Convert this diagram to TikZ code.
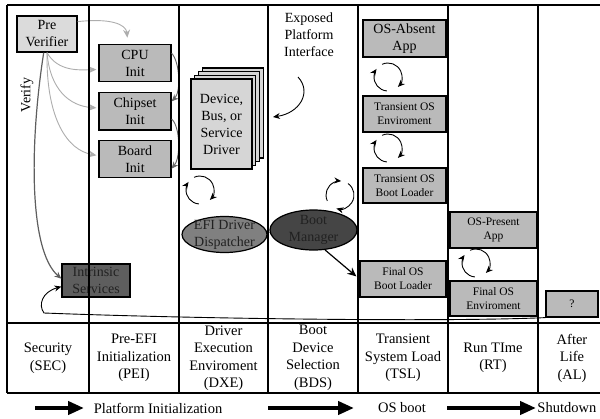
\documentclass[tikz,border=0pt]{standalone}
\usepackage{fontspec}
\setmainfont{Liberation Serif}
\usepackage{tikz}
\usetikzlibrary{shapes,arrows.meta,positioning}

\definecolor{pale}{gray}{0.86}
\definecolor{mid}{gray}{0.73}
\definecolor{drv}{gray}{0.84}
\definecolor{dim}{gray}{0.37}
\definecolor{efi}{gray}{0.5}
\definecolor{bmgr}{gray}{0.27}
\definecolor{lite}{gray}{0.68}
\definecolor{darkline}{gray}{0.4}
\definecolor{ink}{gray}{0.13}

\begin{document}
\begin{tikzpicture}[x=1pt, y=-1pt, line width=0.9pt,
>={Stealth[length=7pt,width=6pt]}, node distance=9.5pt,
big/.style={font=\fontsize{14}{17}\selectfont},
small/.style={font=\fontsize{11.5}{14}\selectfont},
cell/.style={font=\fontsize{14.5}{17.5}\selectfont, align=center},
box/.style={draw, line width=1.2pt, fill=mid, align=center, inner sep=0pt},
pei/.style={box, big, minimum width=72pt, minimum height=37.5pt},
tsl/.style={box, small, minimum width=83pt, minimum height=36pt},
oval/.style={ellipse, draw, line width=1.2pt, inner sep=0pt,
  minimum width=85pt, minimum height=36pt},
soft/.style={->, draw=lite, shorten >=2pt, >={Stealth[length=8pt,width=7pt]}},
fat/.style={-{Triangle[length=16pt,width=13pt]}, line width=4pt},
frame/.style={line width=1.5pt},
swaploop/.pic={
  \draw [->] (95:14) arc[start angle=95, end angle=215, radius=14];
  \draw [->] (245:14) arc[start angle=245, end angle=405, radius=14];
}]
\useasboundingbox (0,0) rectangle (600,418);

% Security
\node [box, big, fill=pale, minimum width=60pt, minimum height=36pt] (prever) at (47,34) {Pre\\Verifier};
\node [big, rotate=90] (verify) at (27,95) {Verify};
\node [box, big, fill=dim, text=ink, minimum width=68pt, minimum height=33pt] (intr) at (96,280.5) {Intrinsic\\Services};

% PEI
\node [pei] (cpu) at (135,63) {CPU\\Init};
\node [pei, below=9.5pt of cpu] (chip) {Chipset\\Init};
\node [pei, below=9pt of chip] (board) {Board\\Init};

% DXE
\foreach \k in {3,2,1}
  \draw [line width=1.2pt, fill=drv] (191+3.7*\k, 79-3.7*\k) rectangle +(61,90);
\node [box, big, fill=drv, minimum width=61pt, minimum height=90pt] (drv) at (221.5,124) {Device,\\Bus, or\\Service\\Driver};
\node [oval, fill=efi, label={[big, align=center, text=ink]center:EFI Driver\\Dispatcher}] (efi) at (224.5,234.5) {};

% BDS
\node [big, align=center] (epi) at (309,35) {Exposed\\Platform\\Interface};
\node [oval, fill=bmgr, minimum width=87pt, minimum height=40pt, label={[big, align=center, text=ink]center:Boot\\Manager}] (bm) at (313.5,230) {};

% TSL
\node [tsl, big, minimum height=37pt] (absent) at (404.5,38.5) {OS-Absent\\App};
\node [tsl] (tenv) at (404.5,114) {Transient OS\\Enviroment};
\node [tsl, minimum height=35pt] (tload) at (404.5,185.5) {Transient OS\\Boot Loader};
\node [tsl, minimum width=86pt] (fload) at (403,279) {Final OS\\Boot Loader};

% RT and AL
\node [tsl, minimum width=87pt] (present) at (493.5,230) {OS-Present\\App};
\node [tsl, minimum width=87pt, minimum height=35pt] (fenv) at (493.5,298.5) {Final OS\\Enviroment};
\node [tsl, minimum width=52pt, minimum height=26pt] (quest) at (572,304) {?};

% two way loops
\pic (dxeloop) at (200,190) {swaploop};
\pic [rotate=-60] (bdsloop) at (340,195) {swaploop};
\pic (apploop) at (388,77) {swaploop};
\pic (envloop) at (388,148) {swaploop};
\pic (rtloop) at (476,263) {swaploop};

% connectors
\draw [soft, shorten >=6pt] (prever.22) .. controls (110,18) and (126,24) .. (cpu.110);
\draw [soft] (prever.south) .. controls (58,72) and (80,70) .. (cpu.190);
\draw [soft] (prever.south) .. controls (50,90) and (70,106) .. (chip.175);
\draw [soft] (prever.south) .. controls (46,120) and (68,150) .. (board.175);
\draw [->, draw=dim, line width=1.2pt] (prever.-100) .. controls (30,140) and (28,250) .. (intr.177);

\draw [->, draw=darkline] (cpu.15) .. controls (180,62) and (181,92) .. (chip.15);
\draw [->, draw=darkline] (chip.-12) .. controls (180,126) and (181,157) .. (board.-15);

\coordinate (epis) at (298,77);
\coordinate (epie) at (273,117);
\draw [->] (epis) .. controls (312,92) and (300,113) .. (epie);

\draw (efi) -- (bm);
\draw [->, line width=1.2pt, shorten >=4pt, >={Stealth[length=9pt,width=8pt]}] (bm.-60) -- (fload.west);

\coordinate (ret) at (44,313);
\draw [->] (quest.south west) .. controls (450,322) and (200,319) .. (ret)
  .. controls (38,305) and (42,292) .. (intr.190);

% frame and columns
\draw [frame] (7,5) -- (600,5) (7,5) -- (7,393) (7,393) -- (600,393) (7,323) -- (600,323)
  (89,5) -- (89,393) (179,5) -- (179,393) (268,5) -- (268,393)
  (358,5) -- (358,393) (448,5) -- (448,393) (538,5) -- (538,393);

% phases
\node [cell] (sec) at (48,358) {Security\\(SEC)};
\node [cell] (peiphase) at (134,358) {Pre-EFI\\Initialization\\(PEI)};
\node [cell] (dxe) at (223.5,358) {Driver\\Execution\\Enviroment\\(DXE)};
\node [cell] (bds) at (313,358) {Boot\\Device\\Selection\\(BDS)};
\node [cell] (tslphase) at (403,358) {Transient\\System Load\\(TSL)};
\node [cell] (rt) at (493,358) {Run TIme\\(RT)};
\node [cell] (al) at (572,358) {After\\Life\\(AL)};

% bottom arrows
\coordinate (a1s) at (35,408);
\coordinate (a1e) at (84,408);
\coordinate (a2s) at (268,408);
\coordinate (a2e) at (354,408);
\coordinate (a3s) at (447,408);
\coordinate (a3e) at (536,408);
\draw [fat] (a1s) -- (a1e);
\draw [fat] (a2s) -- (a2e);
\draw [fat] (a3s) -- (a3e);
\node [cell, anchor=west] (plat) at (90,408) {Platform Initialization};
\node [cell] (osboot) at (402,408) {OS boot};
\node [cell, anchor=west, inner sep=0pt] (shut) at (537,408) {Shutdown};
\end{tikzpicture}
\end{document}
